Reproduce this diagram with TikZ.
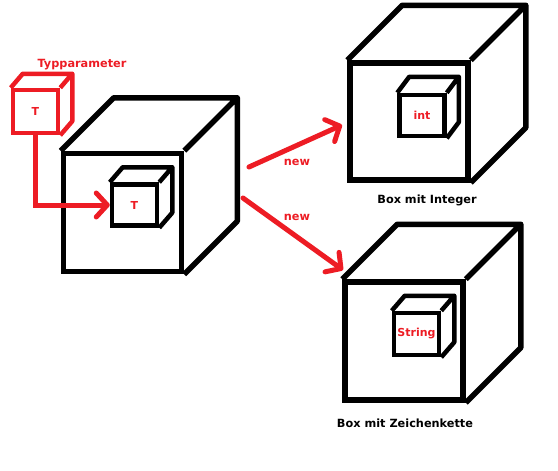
\documentclass[tikz,border=0pt]{standalone}
\usepackage{fontspec}
\setmainfont{DejaVu Sans}
\usetikzlibrary{calc,arrows.meta}
\definecolor{pred}{RGB}{237,28,36}
\newcommand\cubeback[4]{%
  \draw[#4] (#1.north west) -- ++(#2,#3) -- ($(#1.north east)+(#2,#3)$) -- ($(#1.south east)+(#2,#3)$) -- (#1.south east)
    (#1.north east) -- ++(#2,#3);}
\begin{document}
\begin{tikzpicture}[x=1pt,y=-1pt,
  bigface/.style={draw=black,line width=5.5pt,minimum width=118pt,minimum height=118pt,inner sep=0pt},
  bigline/.style={draw=black,line width=5.5pt,line join=round},
  smallface/.style={draw=black,line width=4.5pt,minimum width=45pt,minimum height=41pt,inner sep=0pt,text=pred,font=\bfseries\fontsize{11}{12}\selectfont},
  smallline/.style={draw=black,line width=4.5pt,line join=round},
  redface/.style={draw=pred,line width=4.5pt,minimum width=45pt,minimum height=43pt,inner sep=0pt,text=pred,font=\bfseries\fontsize{11}{12}\selectfont},
  redline/.style={draw=pred,line width=4.5pt,line join=round},
  conn/.style={draw=pred,line width=5pt,line cap=round,-{Straight Barb[length=11pt,width=24pt,line cap=round,line join=round]}},
  lbl/.style={font=\bfseries\fontsize{11.3}{13}\selectfont},
  redlbl/.style={lbl,text=pred}]
\useasboundingbox (0,0) rectangle (558,471);
% left big cube
\node[bigface] (big1) at (122.5,212.5) {};
\cubeback{big1}{53}{-53}{bigline}
\node[smallface] (in1) at (134.5,205) {T};
\cubeback{in1}{13}{-15}{smallline}
% red type parameter cube
\node[redface] (rc) at (35.5,111.5) {T};
\cubeback{rc}{12}{-14}{redline}
\node[redlbl] (tp) at (82,65) {Typparameter};
% upper right cube
\node[bigface,minimum height=117pt] (big2) at (409,121.5) {};
\cubeback{big2}{55}{-55}{bigline}
\node[smallface] (in2) at (422,115.5) {int};
\cubeback{in2}{12}{-16}{smallline}
\node[lbl] (l2) at (427,200) {Box mit Integer};
% lower right cube
\node[bigface] (big3) at (404,341) {};
\cubeback{big3}{55}{-55}{bigline}
\node[smallface,minimum height=42pt] (in3) at (416.5,334) {String};
\cubeback{in3}{13}{-15}{smallline}
\node[lbl] (l3) at (405,423) {Box mit Zeichenkette};
% connectors
\draw[conn,line cap=butt] (rc.south) |- (in1.west);
\coordinate (s1) at (249,167);
\coordinate (e1) at (342,125);
\coordinate (s2) at (243,198);
\coordinate (e2) at (343,270);
\draw[conn] (s1) -- (e1);
\draw[conn] (s2) -- (e2);
\node[redlbl] (n1) at (297,162) {new};
\node[redlbl] (n2) at (297,217) {new};
\end{tikzpicture}
\end{document}
